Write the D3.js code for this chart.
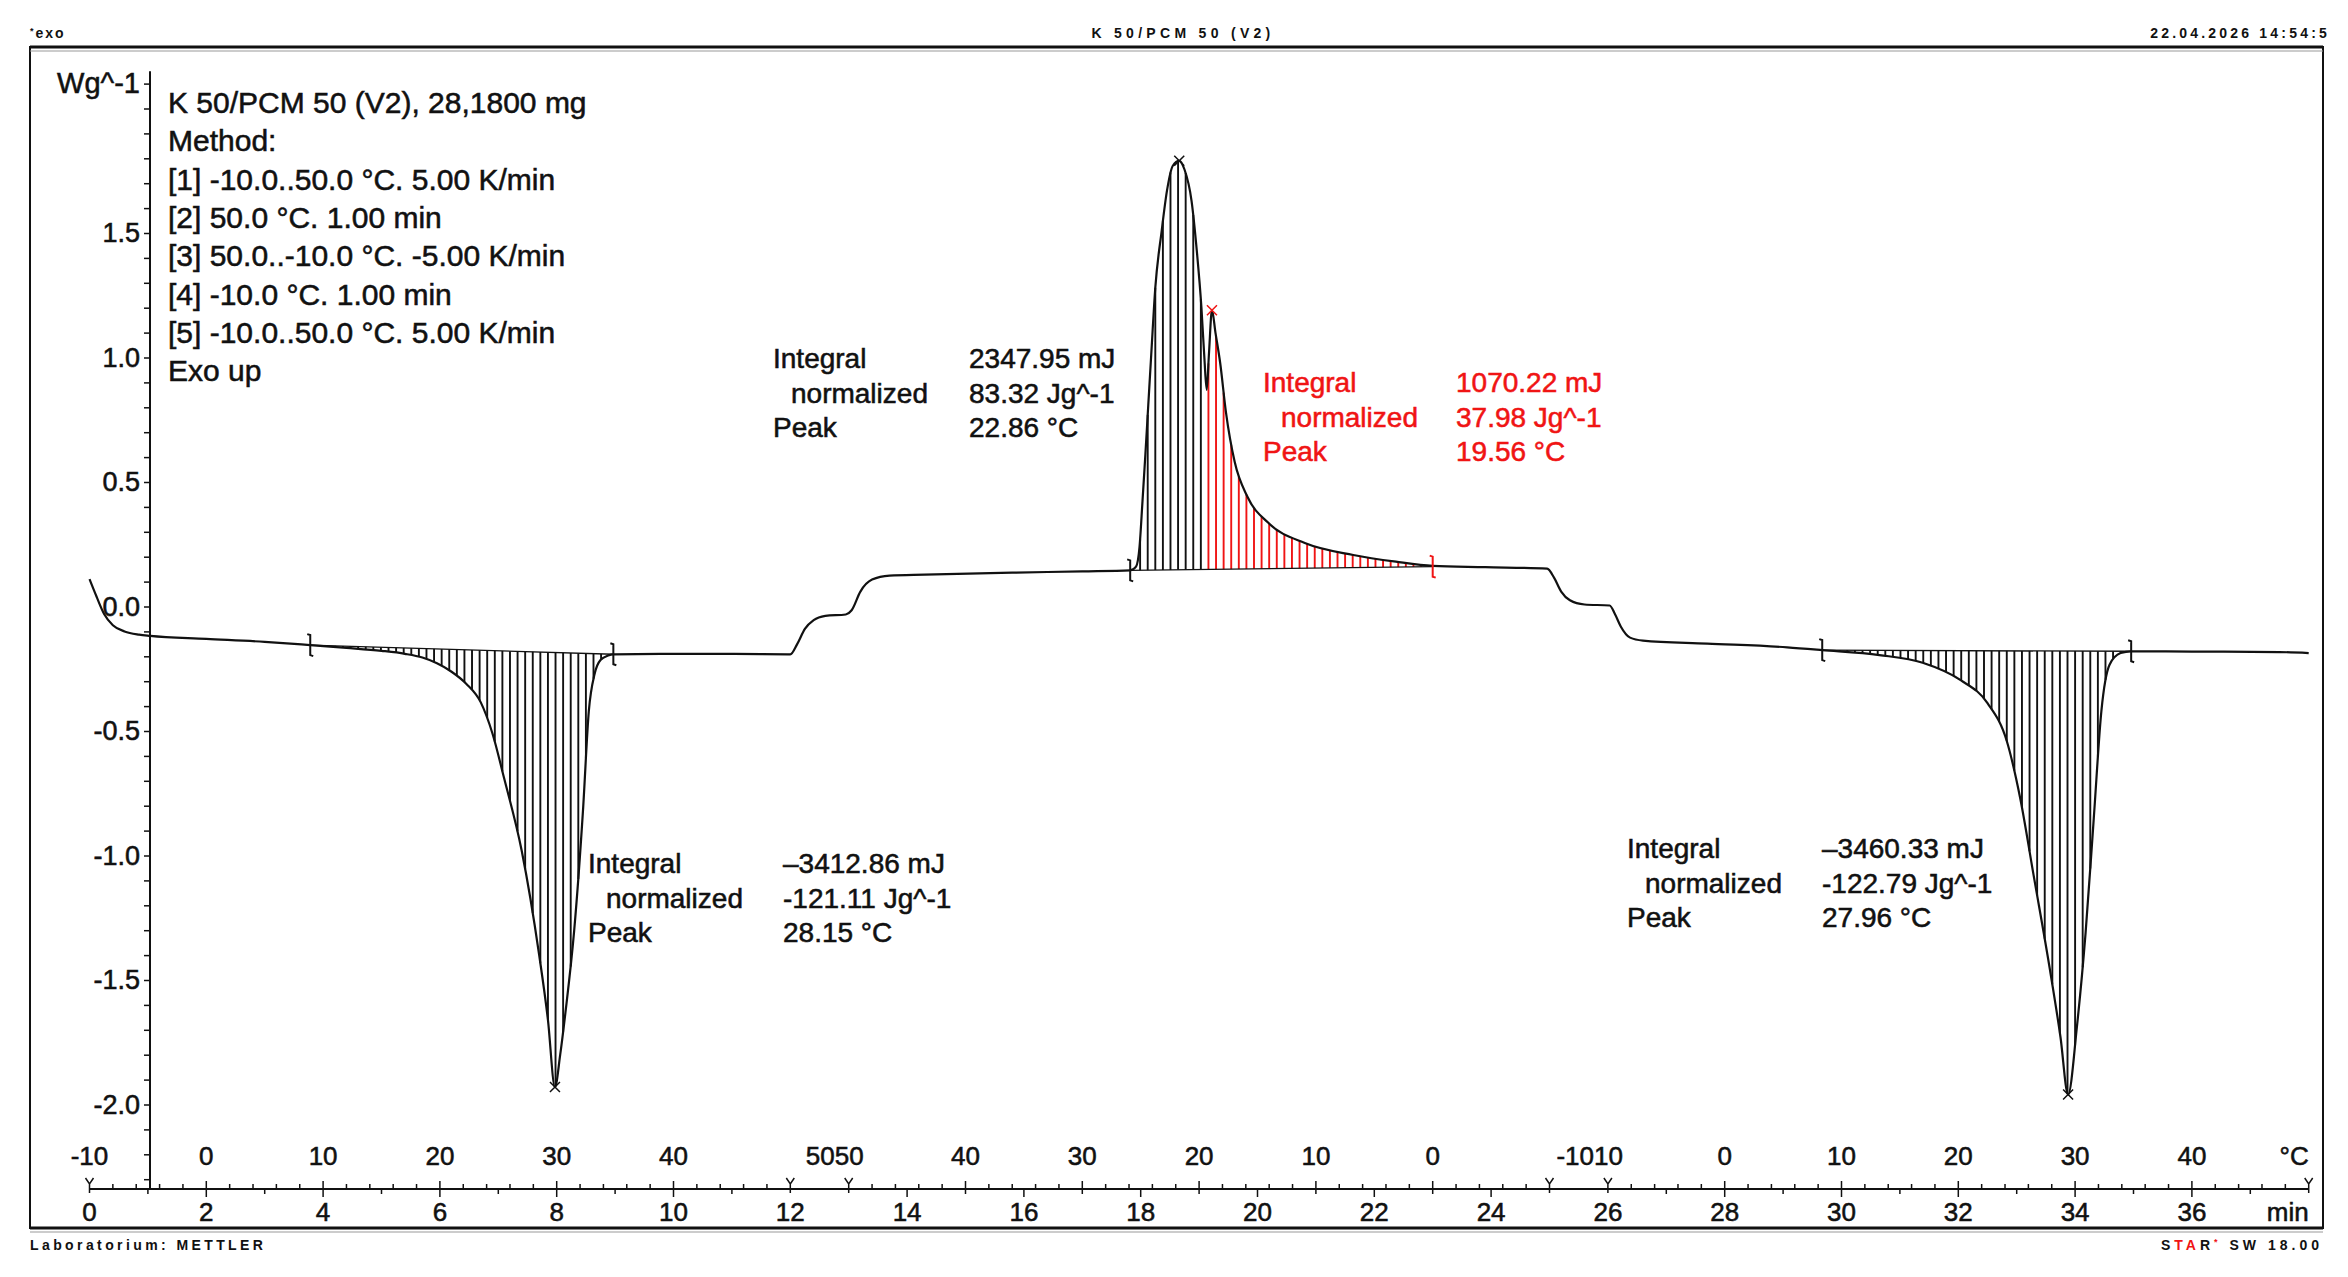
<!DOCTYPE html>
<html>
<head>
<meta charset="utf-8">
<script src="https://cdn.jsdelivr.net/npm/d3@7"></script>
<style>
  body { margin: 0; background: #fff; }
  svg text { font-family: "Liberation Sans", Arial, sans-serif; fill: #111; }
  svg text.heavy { stroke: #111; stroke-width: 0.55px; }
  svg text.heavy.red { stroke: #f01414; }
</style>
</head>
<body>
<svg id="chart" width="2348" height="1277"></svg>
<script>
// DSC curve: time in min, heat flow in W/g (exo up)
const dscTime = [0.00, 0.12, 0.25, 0.40, 0.60, 0.85, 1.04, 2.00, 3.00, 3.78, 4.40, 5.00, 5.40, 5.70, 5.95,
  6.20, 6.45, 6.70, 6.90, 7.10, 7.40, 7.70, 7.85, 7.97, 8.06, 8.15, 8.30, 8.45, 8.55, 8.65, 8.75, 8.88, 8.97,
  10.0, 11.0, 12.0, 12.12, 12.25, 12.40, 12.60, 12.95, 13.05, 13.2, 13.4, 13.7, 14.3, 15.8, 17.0, 17.82,
  17.92, 17.98, 18.03, 18.08, 18.13, 18.18, 18.25, 18.36, 18.45, 18.55, 18.66, 18.75, 18.87, 18.96, 19.04,
  19.09, 19.13, 19.17, 19.22, 19.28, 19.36, 19.46, 19.61, 19.83, 20.19, 20.81, 21.64, 22.37, 23.0, 23.9,
  24.96, 25.08, 25.2, 25.35, 25.6, 26.03, 26.12, 26.22, 26.38, 26.6, 27.7, 29.07, 29.67, 30.65, 31.39, 32.04,
  32.5, 32.83, 33.06, 33.29, 33.57, 33.75, 33.88, 34.03, 34.18, 34.32, 34.45, 34.59, 34.78, 34.96, 36.0,
  37.5, 38.0];
const dscFlow = [0.11, 0.04, -0.03, -0.075, -0.10, -0.113, -0.118, -0.130, -0.142, -0.155, -0.166, -0.178,
  -0.190, -0.205, -0.228, -0.262, -0.31, -0.385, -0.51, -0.69, -0.98, -1.40, -1.66, -1.93, -1.80, -1.63,
  -1.30, -0.82, -0.42, -0.27, -0.215, -0.197, -0.192, -0.19, -0.19, -0.192, -0.15, -0.09, -0.055, -0.038,
  -0.032, -0.015, 0.06, 0.108, 0.124, 0.128, 0.136, 0.141, 0.145, 0.16, 0.24, 0.42, 0.61, 0.81, 1.01, 1.28,
  1.51, 1.67, 1.77, 1.79, 1.755, 1.63, 1.43, 1.20, 1.00, 0.87, 1.02, 1.19, 1.10, 0.98, 0.78, 0.58, 0.44,
  0.335, 0.255, 0.207, 0.18, 0.163, 0.158, 0.152, 0.115, 0.06, 0.025, 0.008, 0.004, -0.03, -0.08, -0.125,
  -0.137, -0.149, -0.164, -0.175, -0.195, -0.226, -0.296, -0.388, -0.54, -0.77, -1.08, -1.46, -1.73, -1.96,
  -1.69, -1.31, -0.85, -0.42, -0.234, -0.187, -0.18, -0.181, -0.183, -0.187];

// temperature program breakpoints
const progTime = [0, 12, 13, 25, 26, 38];
const progTemp = [-10, 50, 50, -10, -10, 50];

// peak integrations (time limits and baseline values at both ends)
const integStart = [3.78, 17.82, 29.67];
const integEnd = [8.97, 23.0, 34.96];
const integBase0 = [-0.155, 0.145, -0.175];
const integBase1 = [-0.192, 0.16, -0.18];
const partialSplit = 19.13; // exo peak: partial area after this time in red

const peakTimes = [7.97, 18.66, 19.22, 33.88];
const peakRed = [false, false, true, false];

const resultLabels = ['Integral', 'normalized', 'Peak'];
const resultValues = [
  ['\u20133412.86 mJ', '-121.11 Jg^-1', '28.15 \u00b0C'],
  ['2347.95 mJ', '83.32 Jg^-1', '22.86 \u00b0C'],
  ['1070.22 mJ', '37.98 Jg^-1', '19.56 \u00b0C'],
  ['\u20133460.33 mJ', '-122.79 Jg^-1', '27.96 \u00b0C']
];
const resultRed = [false, false, true, false];

const methodLines = ['K 50/PCM 50 (V2), 28,1800 mg', 'Method:', '[1] -10.0..50.0 \u00b0C. 5.00 K/min',
  '[2] 50.0 \u00b0C. 1.00 min', '[3] 50.0..-10.0 \u00b0C. -5.00 K/min', '[4] -10.0 \u00b0C. 1.00 min',
  '[5] -10.0..50.0 \u00b0C. 5.00 K/min', 'Exo up'];

const yLabelTicks = [-2.0, -1.5, -1.0, -0.5, 0.0, 0.5, 1.0, 1.5];
const timeLabelTicks = d3.range(0, 37, 2);

// ---- layout
const RED = '#f01414';
const AXIS_Y = 1189;
const Y_AXIS_X = 150;
const resultPos = [[588, 606, 783, 873], [773, 791, 969, 368], [1263, 1281, 1456, 392], [1627, 1645, 1822, 858]];

const svg = d3.select('#chart');

const x = d3.scaleLinear().domain([0, 38]).range([89.5, 2308.7]);
const y = d3.scaleLinear().domain([-2, 1.5]).range([1104.5, 233]);
const fmt = d => d3.format('.1f')(d).replace('\u2212', '-');

// frame + header / footer
svg.append('rect').attr('x', 30).attr('y', 47).attr('width', 2293).attr('height', 1181)
  .attr('fill', 'none').attr('stroke', '#111').attr('stroke-width', 2);
svg.append('line').attr('x1', 30).attr('x2', 2323).attr('y1', 47).attr('y2', 47).attr('stroke', '#111').attr('stroke-width', 3);
svg.append('line').attr('x1', 30).attr('x2', 2323).attr('y1', 51).attr('y2', 51).attr('stroke', '#999').attr('stroke-width', 1);
svg.append('line').attr('x1', 30).attr('x2', 2323).attr('y1', 1228).attr('y2', 1228).attr('stroke', '#111').attr('stroke-width', 3);
svg.append('line').attr('x1', 30).attr('x2', 2323).attr('y1', 1232).attr('y2', 1232).attr('stroke', '#999').attr('stroke-width', 1);

function smallText(tx, ty, anchor, str, ls) {
  return svg.append('text').attr('x', tx).attr('y', ty).attr('text-anchor', anchor)
    .attr('font-size', '14px').attr('font-weight', 'bold')
    .attr('letter-spacing', ls).text(str);
}
const exoHead = smallText(30, 38, 'start', '', 2);
exoHead.append('tspan').attr('font-size', '9px').attr('dy', -4).text('*');
exoHead.append('tspan').attr('dy', 4).text('exo');
smallText(1183, 38, 'middle', 'K 50/PCM 50 (V2)', 4.3);
smallText(2330, 38, 'end', '22.04.2026 14:54:5', 3.2);
smallText(30, 1250, 'start', 'Laboratorium: METTLER', 3.4);
const star = smallText(2323, 1250, 'end', '', 4);
star.append('tspan').text('S');
star.append('tspan').style('fill', RED).text('TA');
star.append('tspan').text('R');
star.append('tspan').style('fill', RED).attr('font-size', '9px').attr('dy', -5).text('*');
star.append('tspan').attr('dy', 5).text(' SW 18.00');

// y axis
const yMinorTicks = d3.range(-23, 22).map(d => d / 10);
const yAxis = d3.axisLeft(y).tickValues(yMinorTicks).tickSize(6).tickPadding(4)
  .tickFormat(d => {
    if (Math.abs(d - 2.1) < 1e-6) return 'Wg^-1';
    return yLabelTicks.some(v => Math.abs(v - d) < 1e-6) ? fmt(d) : '';
  });
const yg = svg.append('g').attr('transform', `translate(${Y_AXIS_X},0)`).call(yAxis);
yg.select('.domain').remove();
yg.selectAll('line').attr('stroke', '#111').attr('stroke-width', 1.5);
yg.selectAll('text').attr('class', 'heavy').attr('font-size', '27px').attr('fill', '#111')
  .attr('font-family', '"Liberation Sans", Arial, sans-serif');
yg.selectAll('text').filter(d => Math.abs(d - 2.1) < 1e-6).attr('font-size', '29px');
svg.append('line').attr('x1', Y_AXIS_X).attr('x2', Y_AXIS_X).attr('y1', y(2.15)).attr('y2', AXIS_Y)
  .attr('stroke', '#111').attr('stroke-width', 2);

// x axis (time below, temperature above)
const xg = svg.append('g');
xg.append('line').attr('x1', x(0)).attr('x2', x(38)).attr('y1', AXIS_Y).attr('y2', AXIS_Y)
  .attr('stroke', '#111').attr('stroke-width', 2);

d3.range(0, 39).forEach(t => {
  if (progTime.includes(t)) return;
  const major = t % 2 === 0;
  xg.append('line').attr('x1', x(t)).attr('x2', x(t)).attr('y1', AXIS_Y).attr('y2', AXIS_Y + (major ? 8 : 5))
    .attr('stroke', '#111').attr('stroke-width', 1.5);
});
timeLabelTicks.forEach(t => {
  xg.append('text').attr('class', 'heavy').attr('x', x(t)).attr('y', 1221).attr('text-anchor', 'middle')
    .attr('font-size', '26px').text(t);
});
xg.append('text').attr('class', 'heavy').attr('x', x(38)).attr('y', 1221).attr('text-anchor', 'end')
  .attr('font-size', '26px').text('min');

// temperature ticks per ramp segment
const tempLabels = [];
for (let i = 0; i < progTime.length - 1; i++) {
  const t0 = progTime[i], t1 = progTime[i + 1], T0 = progTemp[i], T1 = progTemp[i + 1];
  if (T0 === T1) continue;
  const lo = Math.min(T0, T1), hi = Math.max(T0, T1);
  d3.range(lo, hi + 0.001, 2).forEach(T => {
    const t = t0 + (T - T0) / (T1 - T0) * (t1 - t0);
    const atEnd = Math.abs(t - t0) < 1e-6 || Math.abs(t - t1) < 1e-6;
    if (!atEnd) {
      const major = T % 10 === 0;
      xg.append('line').attr('x1', x(t)).attr('x2', x(t)).attr('y1', AXIS_Y).attr('y2', AXIS_Y - (major ? 8 : 5))
        .attr('stroke', '#111').attr('stroke-width', 1.5);
    }
    if (T % 10 === 0) tempLabels.push({ t, T });
  });
}
tempLabels.sort((a, b) => a.t - b.t);
const shownTemp = tempLabels.filter(d => d.t < 37.9);
// labels of the isothermal segments run together, as in the printout ("5050", "-1010")
for (let i = 0; i < shownTemp.length; i++) {
  const d = shownTemp[i], next = shownTemp[i + 1];
  const t = xg.append('text').attr('class', 'heavy').attr('y', 1165).attr('font-size', '26px');
  if (next && next.t - d.t < 1.5) {
    t.attr('x', x(next.t) + 15).attr('text-anchor', 'end').text(`${d.T}${String(next.T).replace('-', '')}`);
    i++;
  } else {
    t.attr('x', x(d.t)).attr('text-anchor', 'middle').text(d.T);
  }
}
xg.append('text').attr('class', 'heavy').attr('x', x(38)).attr('y', 1165).attr('text-anchor', 'end')
  .attr('font-size', '26px').text('\u00b0C');

// segment marks
progTime.forEach(t => {
  const px = x(t);
  xg.append('path')
    .attr('d', `M${px - 4},${AXIS_Y - 11}L${px},${AXIS_Y - 5}L${px + 4},${AXIS_Y - 11}M${px},${AXIS_Y - 5}L${px},${AXIS_Y + 4}`)
    .attr('fill', 'none').attr('stroke', '#111').attr('stroke-width', 1.5);
});

// curve
const idx = d3.range(dscTime.length);
const line = d3.line().x(i => x(dscTime[i])).y(i => y(dscFlow[i])).curve(d3.curveMonotoneX);
const hatchG = svg.append('g');
const curve = svg.append('path').datum(idx).attr('d', line)
  .attr('fill', 'none').attr('stroke', '#111').attr('stroke-width', 2.2);

// sample drawn curve so hatch lines meet it
const node = curve.node();
const total = node.getTotalLength();
const samples = [];
for (let s = 0; s <= total; s += 0.5) samples.push(node.getPointAtLength(s));
const bis = d3.bisector(p => p.x).left;
function curveYAt(px) {
  const i = Math.max(1, Math.min(samples.length - 1, bis(samples, px)));
  const a = samples[i - 1], b = samples[i];
  if (b.x === a.x) return a.y;
  return a.y + (b.y - a.y) * (px - a.x) / (b.x - a.x);
}

const hatchStep = 0.13;
integStart.forEach((t0, k) => {
  const t1 = integEnd[k];
  const base = d3.scaleLinear().domain([t0, t1]).range([integBase0[k], integBase1[k]]);
  d3.range(t0 + 0.04, t1, hatchStep).forEach(t => {
    const px = x(t);
    const yb = y(base(t));
    const yc = curveYAt(px);
    if (Math.abs(yc - yb) < 0.8) return;
    const red = k === 1 && t > partialSplit;
    hatchG.append('line').attr('x1', px).attr('x2', px).attr('y1', yb).attr('y2', yc)
      .attr('stroke', red ? RED : '#111').attr('stroke-width', 1.9);
  });
  hatchG.append('line').attr('x1', x(t0)).attr('x2', x(t1)).attr('y1', y(integBase0[k])).attr('y2', y(integBase1[k]))
    .attr('stroke', '#111').attr('stroke-width', 1.4);
  // limit marks
  [[t0, integBase0[k]], [t1, integBase1[k]]].forEach(([t, v], j) => {
    const px = x(t), py = y(v);
    svg.append('path')
      .attr('d', `M${px - 3},${py - 11}L${px},${py - 10}L${px},${py + 10}L${px + 3},${py + 11}`)
      .attr('fill', 'none').attr('stroke', (k === 1 && j === 1) ? RED : '#111').attr('stroke-width', 2);
  });
});

// peak marks
peakTimes.forEach((t, k) => {
  const px = x(t), py = curveYAt(px);
  svg.append('path').attr('d', `M${px - 5},${py - 5}L${px + 5},${py + 5}M${px - 5},${py + 5}L${px + 5},${py - 5}`)
    .attr('stroke', peakRed[k] ? RED : '#111').attr('stroke-width', 1.5);
});

// results
resultValues.forEach((vals, k) => {
  const [xl, xn, xv, yb] = resultPos[k];
  const col = resultRed[k] ? RED : '#111';
  const cls = resultRed[k] ? 'heavy red' : 'heavy';
  resultLabels.forEach((lab, j) => {
    svg.append('text').attr('class', cls).attr('x', j === 1 ? xn : xl).attr('y', yb + j * 34.5)
      .attr('font-size', '28px').style('fill', col).text(lab);
    svg.append('text').attr('class', cls).attr('x', xv).attr('y', yb + j * 34.5)
      .attr('font-size', '28px').style('fill', col).text(vals[j]);
  });
});

// method block
methodLines.forEach((s, i) => {
  svg.append('text').attr('class', 'heavy').attr('x', 168).attr('y', 113 + i * 38.3)
    .attr('font-size', '30px').text(s);
});
</script>
</body>
</html>
